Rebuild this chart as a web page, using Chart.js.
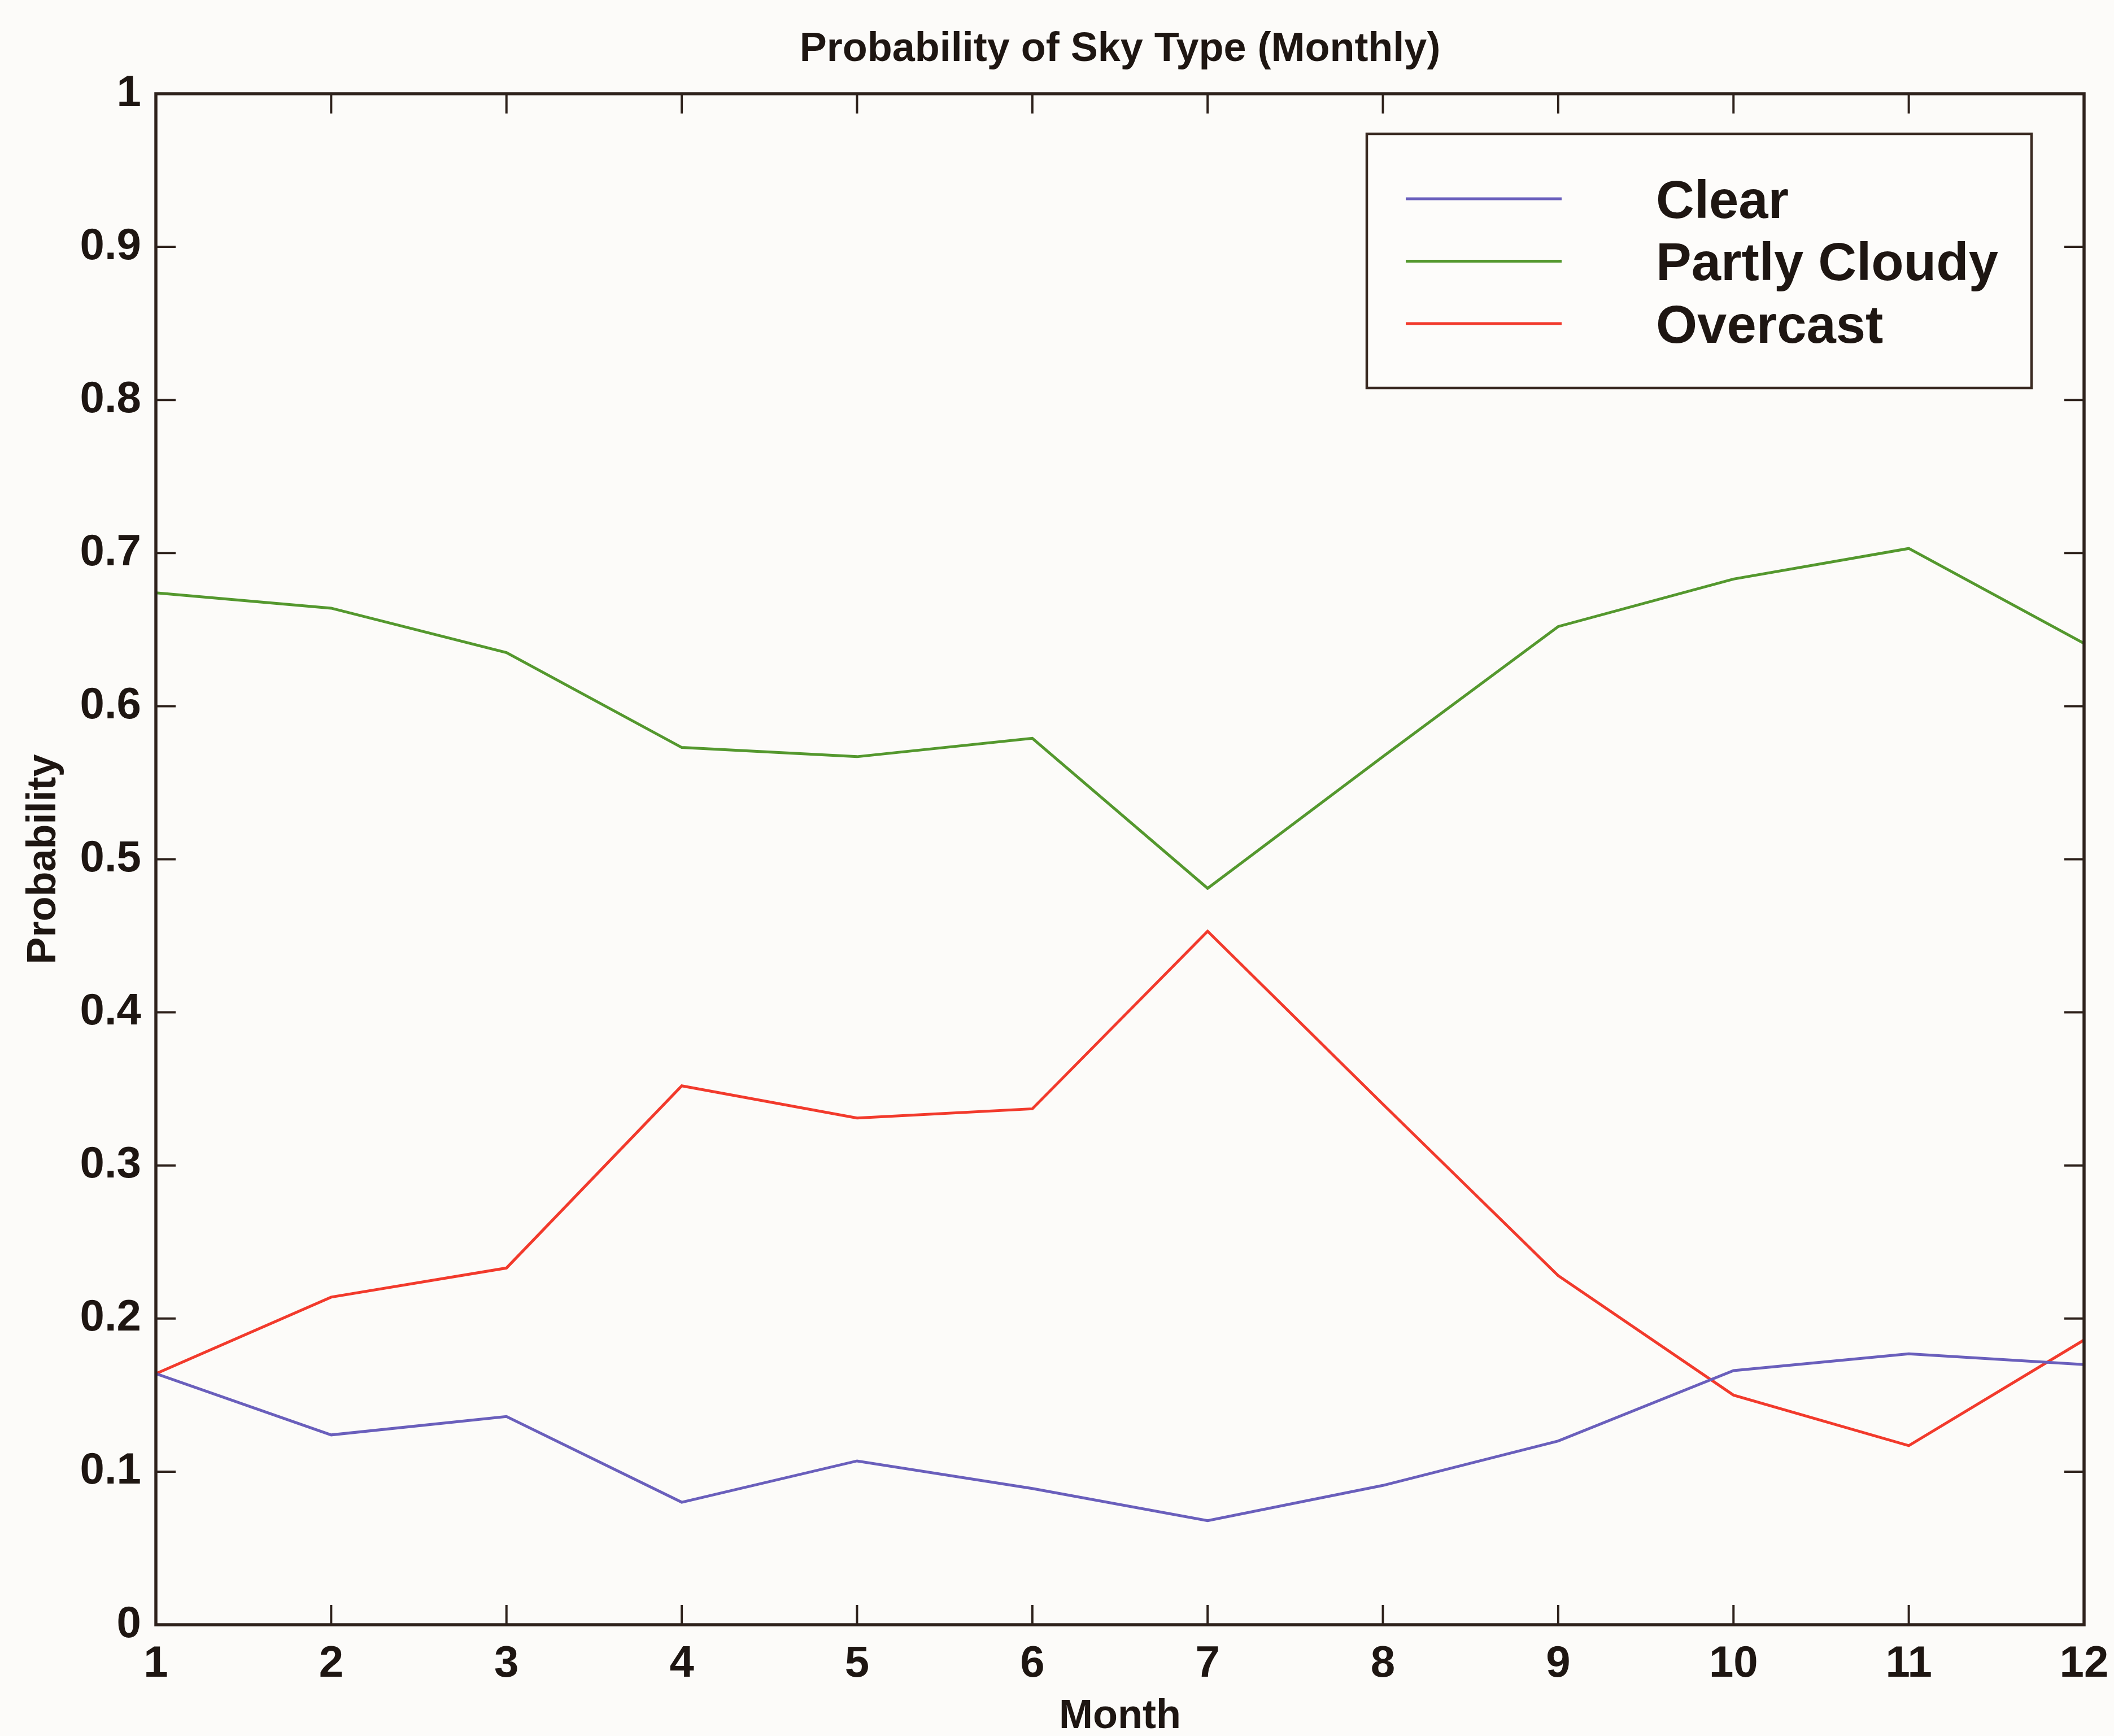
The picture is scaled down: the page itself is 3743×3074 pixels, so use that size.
<!DOCTYPE html>
<html>
<head>
<meta charset="utf-8">
<title>Probability of Sky Type (Monthly)</title>
<script src="https://cdn.jsdelivr.net/npm/chart.js@4.4.1/dist/chart.umd.min.js"></script>
<style>
    html, body { margin: 0; padding: 0; background: #fcfbf9; }
    #wrap { width: 3743px; height: 3074px; position: relative; }
</style>
</head>
<body>
<div id="wrap"><canvas id="skyChart"></canvas></div>
<script>
// Data
const months = [1, 2, 3, 4, 5, 6, 7, 8, 9, 10, 11, 12];
const clearSky = [0.164, 0.124, 0.136, 0.080, 0.107, 0.089, 0.068, 0.091, 0.120, 0.166, 0.177, 0.170];
const partlyCloudy = [0.674, 0.664, 0.635, 0.573, 0.567, 0.579, 0.481, 0.567, 0.652, 0.683, 0.703, 0.641];
const overcast = [0.164, 0.214, 0.233, 0.352, 0.331, 0.337, 0.453, 0.340, 0.228, 0.150, 0.117, 0.186];
const yTicks = [0, 0.1, 0.2, 0.3, 0.4, 0.5, 0.6, 0.7, 0.8, 0.9, 1];
const yTickLabels = ['0', '0.1', '0.2', '0.3', '0.4', '0.5', '0.6', '0.7', '0.8', '0.9', '1'];

const FONT = '"Liberation Sans", Arial, Helvetica, sans-serif';
const INK = '#1e1612';

function toPoints(values) {
    return months.map((m, i) => ({ x: m, y: values[i] }));
}

// Box around the plot with MATLAB style inward ticks on all four sides
const frameTicks = {
    id: 'frameTicks',
    afterDatasetsDraw(chart) {
        const { ctx, chartArea: a, scales } = chart;
        const len = 35;
        ctx.save();
        ctx.strokeStyle = '#2e221c';
        ctx.lineWidth = 4;
        ctx.beginPath();
        months.forEach(m => {
            const px = scales.x.getPixelForValue(m);
            ctx.moveTo(px, a.bottom); ctx.lineTo(px, a.bottom - len);
            ctx.moveTo(px, a.top); ctx.lineTo(px, a.top + len);
        });
        yTicks.forEach(v => {
            const py = scales.y.getPixelForValue(v);
            ctx.moveTo(a.left, py); ctx.lineTo(a.left + len, py);
            ctx.moveTo(a.right, py); ctx.lineTo(a.right - len, py);
        });
        ctx.stroke();
        ctx.lineWidth = 5.5;
        ctx.strokeRect(a.left, a.top, a.right - a.left, a.bottom - a.top);
        ctx.restore();
    }
};

// Boxed legend in the top right corner, as in the original figure
const boxLegend = {
    id: 'boxLegend',
    afterDraw(chart) {
        const { ctx, chartArea: a } = chart;
        const left = a.right - 1270, top = a.top + 71;
        const w = 1177, h = 450;
        ctx.save();
        ctx.fillStyle = '#fdfcfa';
        ctx.fillRect(left, top, w, h);
        ctx.strokeStyle = '#3a2a22';
        ctx.lineWidth = 4.5;
        ctx.strokeRect(left, top, w, h);
        ctx.font = 'bold 94px ' + FONT;
        ctx.textBaseline = 'middle';
        ctx.textAlign = 'left';
        chart.data.datasets.forEach((ds, i) => {
            const y = top + 115 + i * 110.5;
            ctx.strokeStyle = ds.borderColor;
            ctx.lineWidth = 5;
            ctx.beginPath();
            ctx.moveTo(left + 69, y);
            ctx.lineTo(left + 345, y);
            ctx.stroke();
            ctx.fillStyle = INK;
            ctx.fillText(ds.label, left + 512, y + 8);
        });
        ctx.restore();
    }
};

const ctx = document.getElementById('skyChart').getContext('2d');
new Chart(ctx, {
    type: 'line',
    data: {
        datasets: [
            { label: 'Clear', data: toPoints(clearSky), borderColor: '#6a5fbc' },
            { label: 'Partly Cloudy', data: toPoints(partlyCloudy), borderColor: '#54982e' },
            { label: 'Overcast', data: toPoints(overcast), borderColor: '#f23a2c' }
        ].map(ds => Object.assign(ds, {
            borderWidth: 5,
            pointRadius: 0,
            tension: 0,
            fill: false
        }))
    },
    options: {
        responsive: true,
        maintainAspectRatio: false,
        animation: false,
        devicePixelRatio: 1,
        layout: { padding: { left: 0, right: 53, top: 0, bottom: 0 } },
        plugins: {
            legend: { display: false },
            tooltip: { enabled: false },
            title: {
                display: true,
                fullSize: false,
                text: 'Probability of Sky Type (Monthly)',
                color: INK,
                font: { family: FONT, size: 72, weight: 'bold' },
                padding: { top: 45, bottom: 34.6 }
            }
        },
        scales: {
            x: {
                type: 'linear',
                min: 1,
                max: 12,
                afterBuildTicks: scale => { scale.ticks = months.map(m => ({ value: m })); },
                afterFit: scale => {
                    scale.height = 197;
                    scale.paddingLeft = 0;
                    scale.paddingRight = 0;
                },
                grid: { display: false, drawTicks: false },
                border: { display: false },
                ticks: {
                    color: INK,
                    padding: 24,
                    maxRotation: 0,
                    autoSkip: false,
                    font: { family: FONT, size: 78, weight: 'bold' },
                    callback: v => String(v)
                },
                title: {
                    display: true,
                    text: 'Month',
                    color: INK,
                    font: { family: FONT, size: 72, weight: 'bold' },
                    padding: { top: 0, bottom: -9 }
                }
            },
            y: {
                type: 'linear',
                min: 0,
                max: 1,
                afterBuildTicks: scale => { scale.ticks = yTicks.map(v => ({ value: v })); },
                afterFit: scale => {
                    scale.width = 276;
                    scale.paddingTop = 0;
                    scale.paddingBottom = 0;
                },
                grid: { display: false, drawTicks: false },
                border: { display: false },
                ticks: {
                    color: INK,
                    padding: 26,
                    autoSkip: false,
                    font: { family: FONT, size: 78, weight: 'bold' },
                    callback: (v, i) => yTickLabels[i]
                },
                title: {
                    display: true,
                    text: 'Probability',
                    color: INK,
                    font: { family: FONT, size: 72, weight: 'bold' },
                    padding: { top: 35, bottom: 0 }
                }
            }
        }
    },
    plugins: [frameTicks, boxLegend]
});
</script>
</body>
</html>
